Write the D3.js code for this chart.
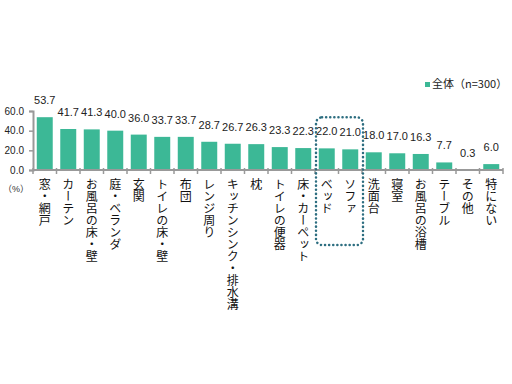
<!DOCTYPE html>
<html>
<head>
<meta charset="utf-8">
<script src="https://cdn.jsdelivr.net/npm/d3@7"></script>
<style>
  body { margin: 0; background: #fff; }
  text { font-family: "Liberation Sans", Arial, "Noto Sans CJK JP", sans-serif; }
  .cat { font-family: "Noto Sans CJK JP", sans-serif; }
</style>
</head>
<body>
<div id="chart"></div>
<script>
// data
const categories = ["窓・網戸", "カーテン", "お風呂の床・壁", "庭・ベランダ", "玄関", "トイレの床・壁", "布団",
  "レンジ周り", "キッチンシンク・排水溝", "枕", "トイレの便器", "床・カーペット", "ベッド", "ソファ",
  "洗面台", "寝室", "お風呂の浴槽", "テーブル", "その他", "特にない"];
const values = [53.7, 41.7, 41.3, 40.0, 36.0, 33.7, 33.7, 28.7, 26.7, 26.3, 23.3, 22.3, 22.0, 21.0,
  18.0, 17.0, 16.3, 7.7, 0.3, 6.0];
const yTicks = [0, 20, 40, 60];
const seriesName = "全体（n=300）";
const highlighted = ["ベッド", "ソファ"];

const W = 512, H = 384;
const barColor = "#3cb896";
const axisColor = "#999";

const svg = d3.select("#chart").append("svg")
  .attr("width", W).attr("height", H);

const x = d3.scaleBand()
  .domain(categories)
  .range([33, 503])
  .paddingInner(0.32)
  .paddingOuter(0.16);

const y = d3.scaleLinear()
  .domain([0, 60])
  .range([170, 111]);

const step = x.step();
const x0 = x.range()[0];

// y axis
const yAxis = svg.append("g")
  .attr("transform", `translate(${x0},0)`)
  .call(d3.axisLeft(y).tickValues(yTicks).tickFormat(d3.format(".1f")).tickSize(4).tickPadding(5));
yAxis.select(".domain").attr("stroke", axisColor).attr("stroke-width", 2);
yAxis.selectAll(".tick line").attr("stroke", axisColor).attr("stroke-width", 1.5);
yAxis.selectAll(".tick text").attr("font-size", 10).attr("fill", "#222");

// bars
svg.append("g").selectAll("rect")
  .data(categories)
  .join("rect")
  .attr("x", d => x(d))
  .attr("y", (d, i) => y(values[i]))
  .attr("width", x.bandwidth())
  .attr("height", (d, i) => y(0) - y(values[i]))
  .attr("fill", barColor);

// x axis line with boundary ticks
svg.append("line")
  .attr("x1", x0).attr("x2", x.range()[1])
  .attr("y1", y(0)).attr("y2", y(0))
  .attr("stroke", axisColor).attr("stroke-width", 2);

svg.append("g").selectAll("line")
  .data(d3.range(categories.length + 1))
  .join("line")
  .attr("x1", i => x0 + i * step).attr("x2", i => x0 + i * step)
  .attr("y1", y(0) - 2).attr("y2", y(0) + 4)
  .attr("stroke", axisColor).attr("stroke-width", 1.5);

// value labels
svg.append("g").selectAll("text")
  .data(categories)
  .join("text")
  .attr("x", d => x(d) + x.bandwidth() / 2)
  .attr("y", (d, i) => y(values[i]) - 13)
  .attr("text-anchor", "middle")
  .attr("font-size", 11)
  .attr("fill", "#222")
  .text((d, i) => values[i].toFixed(1));

// category labels (vertical)
svg.append("g").selectAll("text")
  .data(categories)
  .join("text")
  .attr("class", "cat")
  .attr("transform", d => `translate(${x(d) + x.bandwidth() / 2},178)`)
  .style("writing-mode", "vertical-rl")
  .style("text-orientation", "upright")
  .attr("font-size", 12)
  .attr("fill", "#111")
  .text(d => d);

// unit
svg.append("text")
  .attr("x", 16).attr("y", 192)
  .attr("text-anchor", "middle")
  .attr("font-size", 9)
  .attr("fill", "#333")
  .text("（%）");

// legend
const legend = svg.append("g").attr("transform", "translate(425,82)");
legend.append("rect").attr("width", 5).attr("height", 5).attr("fill", barColor);
legend.append("text")
  .attr("class", "cat")
  .attr("x", 7).attr("y", 6)
  .attr("font-size", 11)
  .attr("fill", "#222")
  .text(seriesName);

// dotted highlight box
const hx1 = x(highlighted[0]) - step * 0.16 + 1;
const hx2 = x(highlighted[1]) + x.bandwidth() + step * 0.16 + 1;
const hTop = y(d3.max(highlighted, c => values[categories.indexOf(c)])) - 31;
svg.append("rect")
  .attr("x", hx1).attr("y", hTop)
  .attr("width", hx2 - hx1).attr("height", 245 - hTop)
  .attr("rx", 6)
  .attr("fill", "none")
  .attr("stroke", "#2d6e80")
  .attr("stroke-width", 2.5)
  .attr("stroke-linecap", "round")
  .attr("stroke-dasharray", "0.1,4");
</script>
</body>
</html>
